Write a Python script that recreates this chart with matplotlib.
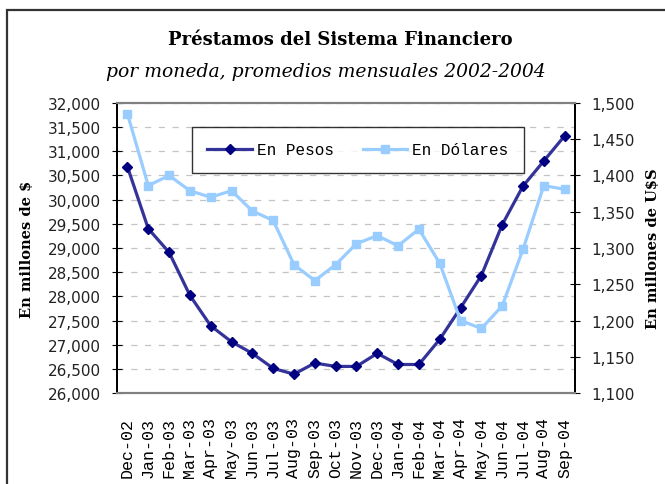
import matplotlib
matplotlib.use("Agg")
import matplotlib.pyplot as plt
from matplotlib.patches import Rectangle
from matplotlib.ticker import FuncFormatter, MultipleLocator


# DATA #

meses = ['Dec-02', 'Jan-03', 'Feb-03', 'Mar-03', 'Apr-03', 'May-03', 'Jun-03',
         'Jul-03', 'Aug-03', 'Sep-03', 'Oct-03', 'Nov-03', 'Dec-03', 'Jan-04',
         'Feb-04', 'Mar-04', 'Apr-04', 'May-04', 'Jun-04', 'Jul-04', 'Aug-04',
         'Sep-04']

en_pesos = [30680, 29400, 28910, 28020, 27390, 27060, 26820, 26510, 26390,
            26620, 26550, 26550, 26820, 26590, 26590, 27110, 27760, 28430,
            29480, 30280, 30800, 31320]

en_dolares = [1485, 1386, 1400, 1379, 1370, 1379, 1351, 1338, 1277, 1255,
              1277, 1306, 1317, 1303, 1326, 1279, 1200, 1189, 1220, 1298,
              1386, 1381]

titulo = 'Préstamos del Sistema Financiero'
subtitulo = 'por moneda, promedios mensuales 2002-2004'


# FIGURE SETUP #

fig = plt.figure(figsize=(6.65, 4.85), dpi=100)
ax = fig.add_axes([0.176, 0.1876, 0.6887, 0.598])
ax2 = ax.twinx()

x = range(len(meses))

l1, = ax.plot(x, en_pesos, color='#333399', lw=2.3, marker='D', ms=5.5,
              mfc='#000080', mec='#000080', label='En Pesos', zorder=3)
l2, = ax2.plot(x, en_dolares, color='#99CCFF', lw=2.3, marker='s', ms=5.5,
               mfc='#99CCFF', mec='#99CCFF', label='En Dólares', zorder=3)

ax.set_xlim(-0.5, len(meses) - 0.5)
ax.set_ylim(26000, 32000)
ax2.set_ylim(1100, 1500)
ax.yaxis.set_major_locator(MultipleLocator(500))
ax2.yaxis.set_major_locator(MultipleLocator(50))

miles = FuncFormatter(lambda v, p: f'{v:,.0f}')
ax.yaxis.set_major_formatter(miles)
ax2.yaxis.set_major_formatter(miles)

ax.set_xticks(list(x))
ax.set_xticklabels(meses, rotation=90, family='Liberation Mono', fontsize=12)
ax.tick_params(axis='x', length=0, pad=17)
ax.tick_params(axis='y', direction='inout', length=7, labelsize=11, pad=8)
ax2.tick_params(axis='y', direction='inout', length=7, labelsize=11, pad=8)
for t in ax.get_yticklabels() + ax2.get_yticklabels():
    t.set_color('#222222')

ax.grid(axis='y', color='#c4c4c4', ls=(0, (5, 6)), lw=0.9)

for a in (ax, ax2):
    a.spines['top'].set_color('#808080')
    a.spines['bottom'].set_color('#808080')
    a.spines['top'].set_linewidth(1.5)
    a.spines['bottom'].set_linewidth(1.5)
    a.spines['left'].set_linewidth(1.3)
    a.spines['right'].set_linewidth(1.3)

ax.set_ylabel('En millones de $', family='DejaVu Serif', fontweight='bold',
              fontsize=10.5, labelpad=10)
ax2.set_ylabel('En millones de U$S', family='DejaVu Serif', fontweight='bold',
               fontsize=10.5, labelpad=8)

leg = ax2.legend(handles=[l1, l2], loc='center', ncol=2,
                 bbox_to_anchor=(0.526, 0.838), borderaxespad=0,
                 frameon=True, fancybox=False, handlelength=2.8,
                 handletextpad=0.3, columnspacing=1.8,
                 prop={'family': 'Liberation Mono', 'size': 11.5},
                 borderpad=0.95)
leg.get_frame().set_edgecolor('black')
leg.get_frame().set_linewidth(1.0)

fig.text(0.511, 0.917, titulo, ha='center', va='center', family='DejaVu Serif',
         fontweight='bold', fontsize=13)
fig.text(0.49, 0.851, subtitulo, ha='center', va='center', family='DejaVu Serif',
         style='italic', fontsize=13.5)

# marco exterior del grafico
fig.patches.append(Rectangle((7 / 665, -0.05), 1.1, 1 - 11 / 485 + 0.05,
                             transform=fig.transFigure, fill=False,
                             edgecolor='#333333', lw=1.6, clip_on=False))

fig.savefig('out.png', dpi=100)
